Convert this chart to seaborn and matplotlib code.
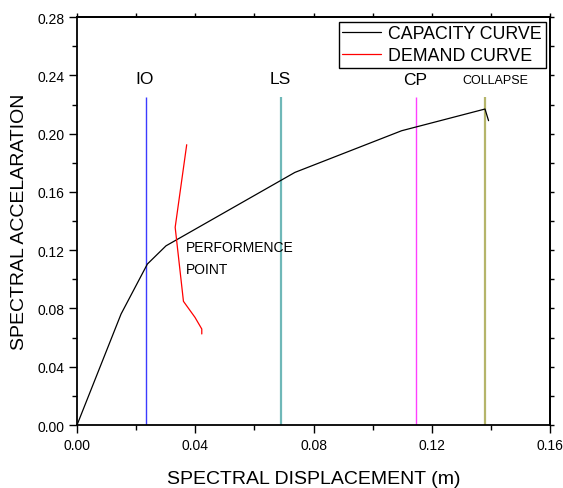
import matplotlib
matplotlib.use("Agg")
import matplotlib.pyplot as plt
from matplotlib.ticker import MultipleLocator, FormatStrFormatter, NullFormatter
import seaborn as sns
import pandas as pd

# Pushover capacity curve (spectral displacement in m, spectral acceleration)
capacity_sd = [0.0, 0.0149, 0.0238, 0.0301, 0.0737, 0.1098, 0.1380, 0.1392]
capacity_sa = [0.0, 0.0762, 0.1105, 0.1230, 0.1734, 0.2020, 0.2169, 0.2089]

# Demand spectrum
demand_sd = [0.0371, 0.0332, 0.0360, 0.0399, 0.0422, 0.0422]
demand_sa = [0.1924, 0.1357, 0.0849, 0.0739, 0.0659, 0.0625]

# Performance levels
limit_names = ["IO", "LS", "CP", "COLLAPSE"]
limit_sd = [0.0233, 0.0689, 0.1146, 0.1379]
limit_colors = ["#3b3bff", "#6fb8b8", "#ff40ff", "#b5b56a"]
limit_top = 0.225

sns.set_theme(style="ticks")
plt.rcParams["font.family"] = ["Liberation Sans", "DejaVu Sans"]
plt.rcParams["text.color"] = "black"

fig = plt.figure(figsize=(5.63, 4.89), dpi=100)
ax = fig.add_axes([0.1368, 0.1288, 0.977 - 0.1368, 0.963 - 0.1288])

cap_df = pd.DataFrame({"sd": capacity_sd, "sa": capacity_sa})
dem_df = pd.DataFrame({"sd": demand_sd, "sa": demand_sa})

sns.lineplot(data=cap_df, x="sd", y="sa", sort=False, estimator=None,
             color="black", lw=0.9, ax=ax, label="CAPACITY CURVE")
sns.lineplot(data=dem_df, x="sd", y="sa", sort=False, estimator=None,
             color="red", lw=0.9, ax=ax, label="DEMAND CURVE")

widths = [1.0, 1.6, 1.0, 1.6]
for name, sd, col, w in zip(limit_names, limit_sd, limit_colors, widths):
    ax.vlines(sd, 0, limit_top, color=col, lw=w, zorder=1)

label_y = [0.238, 0.238, 0.237, 0.2365]
label_size = [12.5, 12.5, 12.5, 9]
label_x = [0.0230, 0.0689, 0.1144, 0.1414]
for name, x, y, fs in zip(limit_names, label_x, label_y, label_size):
    ax.text(x, y, name, ha="center", va="center", fontsize=fs, color="black")

ax.text(0.0369, 0.1146, "PERFORMENCE\nPOINT", ha="left", va="center",
        fontsize=10, linespacing=1.75, color="black")

ax.set_xlim(0, 0.16)
ax.set_ylim(0, 0.28)
ax.xaxis.set_major_locator(MultipleLocator(0.04))
ax.xaxis.set_minor_locator(MultipleLocator(0.02))
ax.yaxis.set_major_locator(MultipleLocator(0.04))
ax.yaxis.set_minor_locator(MultipleLocator(0.02))
ax.xaxis.set_major_formatter(FormatStrFormatter("%.2f"))
ax.yaxis.set_major_formatter(FormatStrFormatter("%.2f"))

ax.tick_params(which="major", direction="out", length=5.5, width=1,
               labelsize=10, colors="black", pad=3.5)
ax.tick_params(which="minor", direction="out", length=3.6, width=1, colors="black")
ax.tick_params(which="both", top=False, right=False)

# Short, evenly spaced ticks along the top and right frame
top = ax.secondary_xaxis("top")
top.xaxis.set_major_locator(MultipleLocator(0.02))
top.xaxis.set_major_formatter(NullFormatter())
top.tick_params(direction="out", length=3, width=1, colors="black")
right = ax.secondary_yaxis("right")
right.yaxis.set_major_locator(MultipleLocator(0.02))
right.yaxis.set_major_formatter(NullFormatter())
right.tick_params(direction="out", length=3, width=1, colors="black")
for sec in (top, right):
    for sp in sec.spines.values():
        sp.set_linewidth(1.3)
        sp.set_color("black")

for sp in ax.spines.values():
    sp.set_visible(True)
    sp.set_color("black")
    sp.set_linewidth(1.3)

ax.set_xlabel("SPECTRAL DISPLACEMENT (m)", fontsize=14, color="black", labelpad=13)
ax.set_ylabel("SPECTRAL ACCELARATION", fontsize=14, color="black", labelpad=7)

leg = ax.legend(loc="upper right", fontsize=12.8, frameon=True, fancybox=False,
                edgecolor="black", framealpha=1, borderaxespad=0.25,
                handlelength=2.2, labelspacing=0.3, borderpad=0.2,
                handletextpad=0.4, labelcolor="black")
leg.get_frame().set_linewidth(1.0)

fig.savefig("out.png", dpi=100)
